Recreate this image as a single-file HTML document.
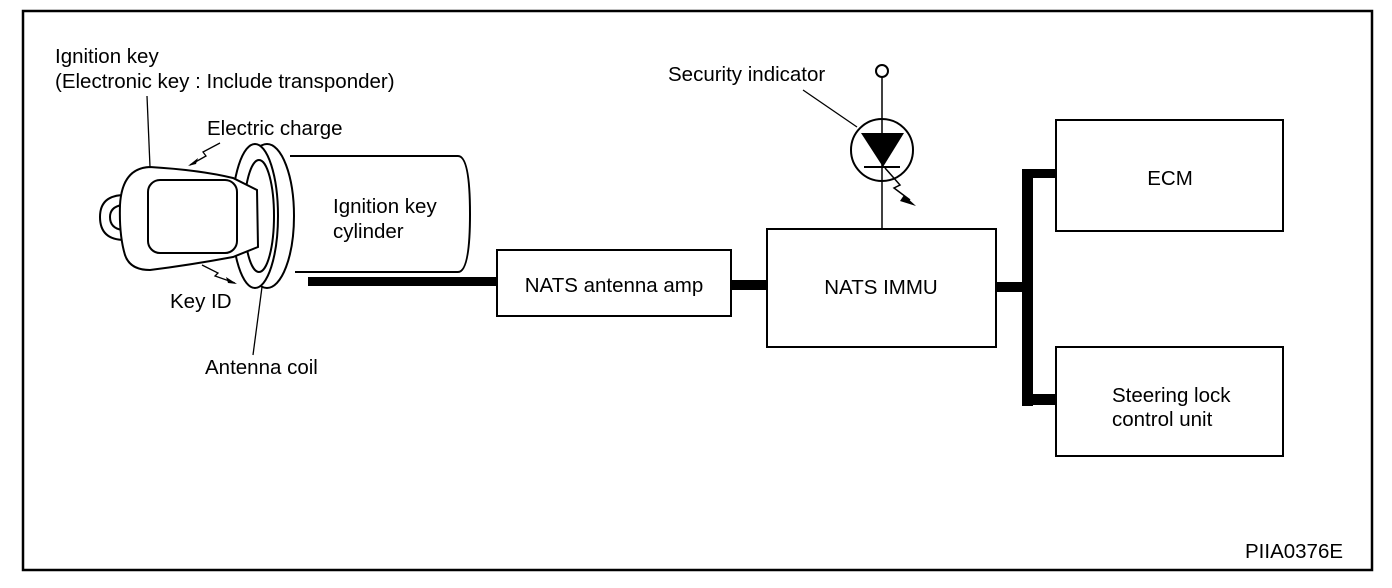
<!DOCTYPE html>
<html><head><meta charset="utf-8"><style>
html,body{margin:0;padding:0;background:#fff;}
svg{display:block;}
text{font-family:"Liberation Sans",Arial,sans-serif;font-size:20.5px;fill:#000;}
</style></head><body>
<svg width="1392" height="588" viewBox="0 0 1392 588" xmlns="http://www.w3.org/2000/svg">
<rect x="23" y="11" width="1349" height="559" fill="none" stroke="#000" stroke-width="2.5"/>
<g fill="none" stroke="#000" stroke-width="2">
<path d="M290 156 L458 156 Q470 156 470 214 Q470 272 458 272 L295 272"/>
<ellipse cx="267" cy="216" rx="27" ry="72" fill="#fff"/>
<ellipse cx="255" cy="216" rx="23" ry="72" fill="#fff"/>
<ellipse cx="259" cy="216" rx="15" ry="56"/>
<path d="M125 195 Q100 195 100 217 Q100 240 125 240"/>
<path d="M122 205 Q110 207 110 217 Q110 228 122 230"/>
<path d="M150 167 Q200 170 233 178 L257 190 L258 247 L233 257 Q190 265 150 270 Q130 270 125 255 Q119 235 120 205 Q122 168 150 167 Z" fill="#fff"/>
<rect x="148" y="180" width="89" height="73" rx="12"/>
<line x1="147" y1="96" x2="150" y2="167" stroke-width="1.3"/>
<line x1="262" y1="287" x2="253" y2="355" stroke-width="1.3"/>
<line x1="803" y1="90" x2="857" y2="127" stroke-width="1.3"/>
<path d="M220 143 L203 152 L206 156 L190 165" stroke-width="1.3"/>
<path d="M202 265 L218 273 L215 276 L235 283" stroke-width="1.3"/>
<rect x="497" y="250" width="234" height="66"/>
<rect x="767" y="229" width="229" height="118"/>
<rect x="1056" y="120" width="227" height="111"/>
<rect x="1056" y="347" width="227" height="109"/>
<circle cx="882" cy="71" r="6"/>
<line x1="882" y1="77" x2="882" y2="229" stroke-width="1.5"/>
<circle cx="882" cy="150" r="31"/>
<line x1="864" y1="167" x2="900" y2="167" stroke-width="2"/>
<path d="M885 168 L900 185 L894 188 L910 200" stroke-width="1.5"/>
</g>
<polygon points="861,133 904,133 883,167" fill="#000"/>
<polygon points="904,195 916,206 900,201" fill="#000"/>
<polygon points="188,166 198,158 196,164" fill="#000"/>
<polygon points="237,284 226,277 228,283" fill="#000"/>
<g fill="#000">
<rect x="308" y="277" width="190" height="9"/>
<rect x="731" y="280" width="36" height="10"/>
<rect x="996" y="282" width="30" height="10"/>
<rect x="1022" y="169" width="11" height="237"/>
<rect x="1022" y="169" width="34" height="9"/>
<rect x="1022" y="394" width="34" height="11"/>
</g>
<text x="55" y="63">Ignition key</text>
<text x="55" y="88">(Electronic key : Include transponder)</text>
<text x="207" y="135">Electric charge</text>
<text x="333" y="213">Ignition key</text>
<text x="333" y="238">cylinder</text>
<text x="170" y="308">Key ID</text>
<text x="205" y="374">Antenna coil</text>
<text x="668" y="81">Security indicator</text>
<text x="614" y="292" text-anchor="middle">NATS antenna amp</text>
<text x="881" y="294" text-anchor="middle">NATS IMMU</text>
<text x="1170" y="185" text-anchor="middle">ECM</text>
<text x="1112" y="402">Steering lock</text>
<text x="1112" y="426">control unit</text>
<text x="1245" y="558">PIIA0376E</text>
</svg>
</body></html>
